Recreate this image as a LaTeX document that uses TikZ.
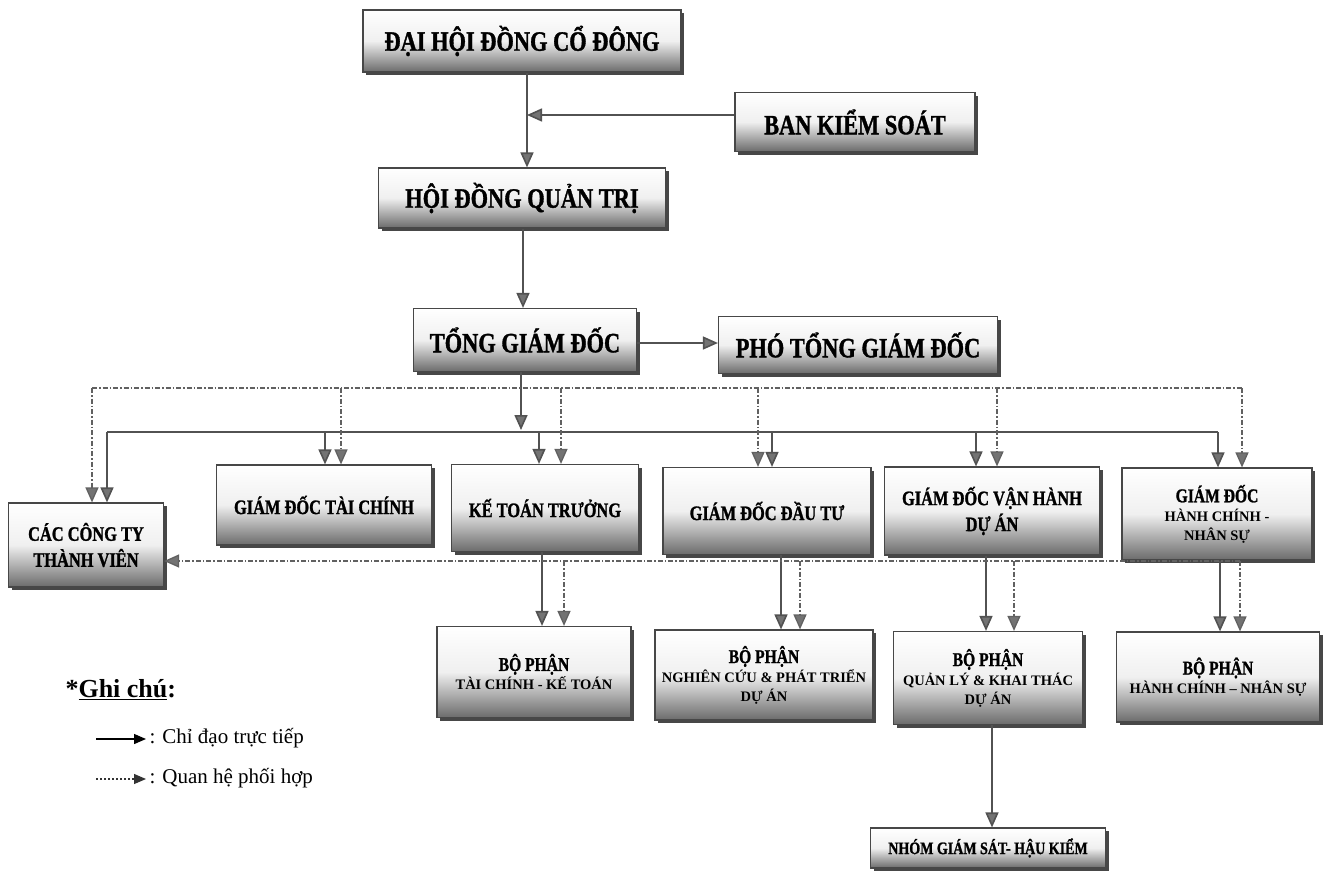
\documentclass[tikz,border=0pt]{standalone}
\usepackage{fontspec}
\setmainfont{Liberation Serif}
\newfontfamily\bx{Liberation Serif}[FakeStretch=0.8,FakeBold=1.2]
\newcommand\bpfont{\bx\bfseries\fontsize{19.5}{19.5}\selectfont}
\usetikzlibrary{arrows.meta,shadows}
\begin{document}
\begin{tikzpicture}[x=1pt,y=-1pt,
  box/.style={draw=black!72, line width=1.2pt, top color=white, bottom color=black!58, middle color=black!6,
    drop shadow={shadow xshift=3pt,shadow yshift=-3pt,fill=black!72,opacity=1},
    align=center, inner sep=1pt},
  big/.style={font=\bx\bfseries\fontsize{28}{30}\selectfont},
  mid/.style={font=\bx\bfseries\fontsize{20.5}{26}\selectfont},
  sml/.style={font=\bfseries\fontsize{14.5}{19}\selectfont},
  ln/.style={draw=black!68, line width=1.6pt},
  arr/.style={ln, -{Triangle[length=15pt,width=13pt,fill=black!55]}},
  dsh/.style={draw=black!62, line width=1.3pt, dash pattern=on 5pt off 2pt on 1.5pt off 2pt},
  darr/.style={dsh, -{Triangle[length=15pt,width=13pt,fill=black!55]}},
]
\useasboundingbox[fill=white] (0,0) rectangle (1329,870);

% ---------- boxes ----------
\node[box,big,minimum width=318pt,minimum height=62pt] (dhdcd) at (522,41) {ĐẠI HỘI ĐỒNG CỔ ĐÔNG};
\node[box,big,minimum width=240pt,minimum height=59pt] (bks) at (855,122) {BAN KIỂM SOÁT};
\node[box,big,minimum width=287pt,minimum height=60pt] (hdqt) at (522,198) {HỘI ĐỒNG QUẢN TRỊ};
\node[box,big,minimum width=223pt,minimum height=63pt] (tgd) at (525,340) {TỔNG GIÁM ĐỐC};
\node[box,big,minimum width=279pt,minimum height=57pt] (ptgd) at (858,345) {PHÓ TỔNG GIÁM ĐỐC};

\node[box,mid,minimum width=155pt,minimum height=84pt] (cacty) at (86,545) {CÁC CÔNG TY\\THÀNH VIÊN};
\node[box,mid,minimum width=215pt,minimum height=80pt] (gdtc) at (324,505) {GIÁM ĐỐC TÀI CHÍNH};
\node[box,mid,minimum width=187pt,minimum height=87pt] (ktt) at (545,508) {KẾ TOÁN TRƯỞNG};
\node[box,mid,minimum width=208pt,minimum height=87pt] (gddt) at (767,511) {GIÁM ĐỐC ĐẦU TƯ};
\node[box,mid,minimum width=215pt,minimum height=88pt] (gdvh) at (992,511) {GIÁM ĐỐC VẬN HÀNH\\DỰ ÁN};
\node[box,sml,minimum width=190pt,minimum height=92pt] (gdhc) at (1217,514) {{\bpfont GIÁM ĐỐC}\\HÀNH CHÍNH -\\NHÂN SỰ};

\node[box,sml,minimum width=194pt,minimum height=91pt] (bptc) at (534,672) {{\bpfont BỘ PHẬN}\\TÀI CHÍNH - KẾ TOÁN};
\node[box,sml,minimum width=218pt,minimum height=90pt] (bpnc) at (764,675) {{\bpfont BỘ PHẬN}\\NGHIÊN CỨU \& PHÁT TRIỂN\\DỰ ÁN};
\node[box,sml,minimum width=189pt,minimum height=93pt] (bpql) at (988,678) {{\bpfont BỘ PHẬN}\\QUẢN LÝ \& KHAI THÁC\\DỰ ÁN};
\node[box,sml,minimum width=203pt,minimum height=90pt] (bphc) at (1218,677) {{\bpfont BỘ PHẬN}\\HÀNH CHÍNH – NHÂN SỰ};
\node[box,font=\bx\bfseries\fontsize{17.5}{18}\selectfont,minimum width=235pt,minimum height=40pt] (nhom) at (988,848) {NHÓM GIÁM SÁT- HẬU KIỂM};

% ---------- top connectors ----------
\coordinate (bksj) at (527,115);
\draw[arr] (dhdcd.south -| bksj) -- (hdqt.north -| bksj);
\draw[arr] (bks.west |- bksj) -- (bksj);
\coordinate (cx) at (523,260);
\draw[arr] (hdqt.south -| cx) -- (tgd.north -| cx);
\coordinate (ty) at (700,343);
\draw[arr] (tgd.east |- ty) -- (ptgd.west |- ty);

% ---------- solid bus ----------
\coordinate (busT) at (521,430);
\draw[arr] (tgd.south -| busT) -- (busT);
\coordinate (b1) at (107,432);
\coordinate (b2) at (325,432);
\coordinate (b3) at (539,432);
\coordinate (b4) at (772,432);
\coordinate (b5) at (976,432);
\coordinate (b6) at (1218,432);
\draw[ln] (b1) -- (b6);
\draw[arr] (b1) -- (cacty.north -| b1);
\draw[arr] (b2) -- (gdtc.north -| b2);
\draw[arr] (b3) -- (ktt.north -| b3);
\draw[arr] (b4) -- (gddt.north -| b4);
\draw[arr] (b5) -- (gdvh.north -| b5);
\draw[arr] (b6) -- (gdhc.north -| b6);

% ---------- dashed top line ----------
\coordinate (d1) at (92,388);
\coordinate (d2) at (341,388);
\coordinate (d3) at (561,388);
\coordinate (d4) at (758,388);
\coordinate (d5) at (997,388);
\coordinate (d6) at (1242,388);
\draw[dsh] (d1) -- (d6);
\draw[darr] (d1) -- (cacty.north -| d1);
\draw[darr] (d2) -- (gdtc.north -| d2);
\draw[darr] (d3) -- (ktt.north -| d3);
\draw[darr] (d4) -- (gddt.north -| d4);
\draw[darr] (d5) -- (gdvh.north -| d5);
\draw[darr] (d6) -- (gdhc.north -| d6);

% ---------- lower solid ----------
\coordinate (s1) at (542,600);
\coordinate (s2) at (781,600);
\coordinate (s3) at (986,600);
\coordinate (s4) at (1220,600);
\coordinate (s5) at (992,780);
\draw[arr] (ktt.south -| s1) -- (bptc.north -| s1);
\draw[arr] (gddt.south -| s2) -- (bpnc.north -| s2);
\draw[arr] (gdvh.south -| s3) -- (bpql.north -| s3);
\draw[arr] (gdhc.south -| s4) -- (bphc.north -| s4);
\draw[arr] (bpql.south -| s5) -- (nhom.north -| s5);

% ---------- lower dashed ----------
\coordinate (e1) at (564,561);
\coordinate (e2) at (800,561);
\coordinate (e3) at (1014,561);
\coordinate (e4) at (1240,561);
\draw[darr] (e4) -- (cacty.east |- e4);
\draw[darr] (e1) -- (bptc.north -| e1);
\draw[darr] (e2) -- (bpnc.north -| e2);
\draw[darr] (e3) -- (bpql.north -| e3);
\draw[darr] (e4) -- (bphc.north -| e4);

% ---------- legend ----------
\node[anchor=west,font=\fontsize{26}{28}\selectfont] (gc) at (62,690) {\textbf{*\underline{Ghi chú}:}};
\node[anchor=west,font=\fontsize{21}{23}\selectfont] (lg1) at (146,738) {: Chỉ đạo trực tiếp};
\node[anchor=west,font=\fontsize{21}{23}\selectfont] (lg2) at (146,778) {: Quan hệ phối hợp};
\coordinate (la1) at (96,739);
\coordinate (la2) at (96,779);
\draw[draw=black, line width=1.4pt, -{Triangle[length=12pt,width=10pt]}] (la1) -- (lg1.west |- la1);
\draw[draw=black!80, line width=1.2pt, dash pattern=on 2pt off 2pt, -{Triangle[length=12pt,width=10pt]}] (la2) -- (lg2.west |- la2);
\end{tikzpicture}
\end{document}
